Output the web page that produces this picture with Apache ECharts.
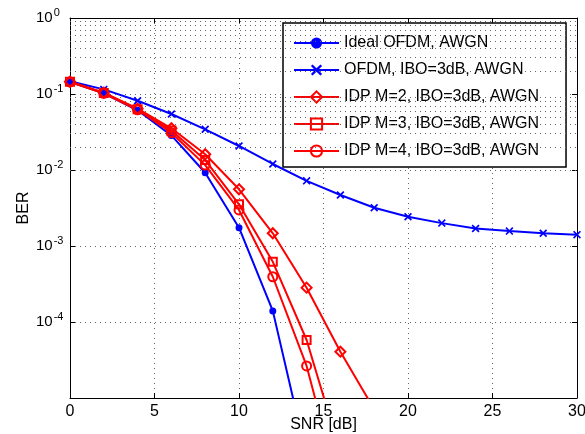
<!DOCTYPE html>
<html>
<head>
<meta charset="utf-8">
<script src="https://cdn.jsdelivr.net/npm/echarts@6/dist/echarts.min.js"></script>
<style>
html,body{margin:0;padding:0;background:#fff;}
#chart{width:585px;height:434px;}
</style>
</head>
<body>
<div id="chart"></div>
<script>
// ---- data ----
const snr = [0, 2, 4, 6, 8, 10, 12, 14, 16, 18, 20, 22, 24, 26, 28, 30];
const idealOfdm = [0.145, 0.102, 0.061, 0.0285, 0.0092, 0.00174, 0.000140, 0.0000017];
const ofdmIbo = [0.147, 0.115, 0.0816, 0.0546, 0.0343, 0.0207, 0.0120, 0.0072, 0.00469, 0.00319, 0.00243, 0.0020, 0.0017, 0.00157, 0.00147, 0.00141];
const idpM2 = [0.145, 0.104, 0.064, 0.0354, 0.0161, 0.00557, 0.00147, 0.000283, 0.0000407, 0.0000071];
const idpM3 = [0.145, 0.103, 0.063, 0.0330, 0.0135, 0.00354, 0.00062, 0.000058, 0.0000019];
const idpM4 = [0.144, 0.102, 0.062, 0.0310, 0.0116, 0.00298, 0.000394, 0.0000264, 0.00000055];
const seriesNames = ['Ideal OFDM, AWGN', 'OFDM, IBO=3dB, AWGN', 'IDP M=2, IBO=3dB, AWGN', 'IDP M=3, IBO=3dB, AWGN', 'IDP M=4, IBO=3dB, AWGN'];
const minorGrid = [];
for (let e = -5; e < 0; e++) for (let m = 2; m <= 9; m++) minorGrid.push(m * Math.pow(10, e));

function pairs(vals) { return vals.map((v, i) => [snr[i], v]); }

const FONT = 'Liberation Sans, Arial, Helvetica, sans-serif';
const BLUE = '#0000ff', RED = '#ff0000';
const GRIDC = '#666';
const xSym = 'path://M1.5,0 L5,3.5 L8.5,0 L10,1.5 L6.5,5 L10,8.5 L8.5,10 L5,6.5 L1.5,10 L0,8.5 L3.5,5 L0,1.5 Z';

const chart = echarts.init(document.getElementById('chart'), null, {renderer: 'canvas'});

function mkSeries(name, vals, color, symbol, size, open) {
  return {
    name: name, type: 'line', data: pairs(vals),
    xAxisIndex: 0, yAxisIndex: 0,
    symbol: symbol, symbolSize: size, showAllSymbol: true,
    lineStyle: {color: color, width: 2},
    itemStyle: open ? {color: '#ffffff00', borderColor: color, borderWidth: 2} : {color: color, borderColor: color, borderWidth: 0},
    emphasis: {disabled: true}, animation: false, clip: true, z: 5
  };
}

const series = [
  mkSeries(seriesNames[0], idealOfdm, BLUE, 'circle', 7, false),
  mkSeries(seriesNames[1], ofdmIbo, BLUE, xSym, 8, false),
  mkSeries(seriesNames[2], idpM2, RED, 'diamond', 10, true),
  mkSeries(seriesNames[3], idpM3, RED, 'rect', 8, true),
  mkSeries(seriesNames[4], idpM4, RED, 'circle', 9, true),
  {
    name: 'minorgrid', type: 'line', data: [], silent: true, animation: false,
    markLine: {
      silent: true, symbol: ['none', 'none'], label: {show: false}, animation: false,
      lineStyle: {type: [1, 4], color: GRIDC, width: 1},
      emphasis: {disabled: true},
      data: minorGrid.map(v => ({yAxis: v}))
    }
  }
];

chart.setOption({
  backgroundColor: '#fff',
  animation: false,
  textStyle: {fontFamily: FONT},
  grid: {left: 70, right: 8, top: 18, bottom: 36, containLabel: false, outerBoundsMode: 'none'},
  legend: {
    data: seriesNames,
    orient: 'vertical', left: 283, top: 23,
    itemWidth: 45, itemHeight: 14, itemGap: 11,
    padding: [12, 27, 8, 10],
    backgroundColor: '#fff', borderColor: '#000', borderWidth: 1.5, borderRadius: 0,
    textStyle: {fontSize: 16, color: '#000', fontFamily: FONT},
    selectedMode: false
  },
  xAxis: [{
    type: 'value', min: 0, max: 30, interval: 5,
    name: 'SNR [dB]', nameLocation: 'middle', nameGap: 19, nameMoveOverlap: false,
    nameTextStyle: {fontSize: 16, color: '#000', fontFamily: FONT},
    axisLine: {show: true, lineStyle: {color: '#000', width: 1}},
    axisTick: {show: true, inside: true, length: 5, lineStyle: {color: '#000'}},
    axisLabel: {fontSize: 16, color: '#000', margin: 6, fontFamily: FONT},
    splitLine: {show: true, lineStyle: {type: [1, 4], color: GRIDC, width: 1}}
  }, {
    type: 'value', min: 0, max: 30, interval: 5, position: 'top',
    axisLine: {show: true, lineStyle: {color: '#000', width: 1}},
    axisTick: {show: true, inside: true, length: 5, lineStyle: {color: '#000'}},
    axisLabel: {show: false}, splitLine: {show: false}
  }],
  yAxis: [{
    type: 'log', logBase: 10, min: 1e-5, max: 1,
    name: 'BER', nameLocation: 'middle', nameGap: 38, nameRotate: 90, nameMoveOverlap: false,
    nameTextStyle: {fontSize: 16, color: '#000', fontFamily: FONT},
    axisLine: {show: true, onZero: false, lineStyle: {color: '#000', width: 1}},
    axisTick: {show: true, inside: true, length: 5, lineStyle: {color: '#000'}},
    axisLabel: {
      align: 'left', margin: 34, color: '#000',
      formatter: function (v) {
        const e = Math.round(Math.log10(v));
        if (e === -5) return '';
        return '{b|10}{s|' + e + '}';
      },
      rich: {
        b: {fontSize: 15, color: '#000', fontFamily: FONT},
        s: {fontSize: 11, color: '#000', fontFamily: FONT, padding: [0, 0, 10, 1]}
      }
    },
    splitLine: {show: true, lineStyle: {type: [1, 4], color: GRIDC, width: 1}}
  }, {
    type: 'log', logBase: 10, min: 1e-5, max: 1, position: 'right',
    axisLine: {show: true, onZero: false, lineStyle: {color: '#000', width: 1}},
    axisTick: {show: true, inside: true, length: 5, lineStyle: {color: '#000'}},
    axisLabel: {show: false}, splitLine: {show: false}
  }],
  series: series
});
</script>
</body>
</html>
